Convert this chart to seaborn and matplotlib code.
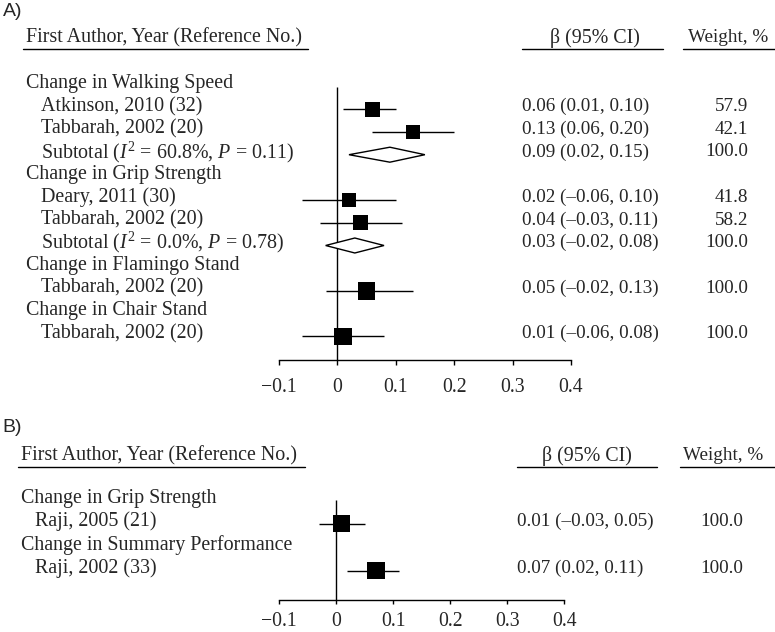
import numpy as np
import pandas as pd
import matplotlib
matplotlib.use("Agg")
import matplotlib.pyplot as plt
import matplotlib.transforms as mtransforms
import seaborn as sns

# -------------------------------
# Data
# -------------------------------
nan = np.nan

a_labels = ["Change in Walking Speed", "Atkinson, 2010 (32)", "Tabbarah, 2002 (20)",
            "Subtotal ($I^2$ = 60.8%, $P$ = 0.11)",
            "Change in Grip Strength", "Deary, 2011 (30)", "Tabbarah, 2002 (20)",
            "Subtotal ($I^2$ = 0.0%, $P$ = 0.78)",
            "Change in Flamingo Stand", "Tabbarah, 2002 (20)",
            "Change in Chair Stand", "Tabbarah, 2002 (20)"]
a_kind = ["group", "study", "study", "subtotal",
          "group", "study", "study", "subtotal",
          "group", "study", "group", "study"]
a_est = [nan, 0.06, 0.13, 0.09, nan, 0.02, 0.04, 0.03, nan, 0.05, nan, 0.01]
a_lo = [nan, 0.01, 0.06, 0.02, nan, -0.06, -0.03, -0.02, nan, -0.02, nan, -0.06]
a_hi = [nan, 0.10, 0.20, 0.15, nan, 0.10, 0.11, 0.08, nan, 0.13, nan, 0.08]
a_weight = [nan, 57.9, 42.1, 100.0, nan, 41.8, 58.2, 100.0, nan, 100.0, nan, 100.0]

b_labels = ["Change in Grip Strength", "Raji, 2005 (21)",
            "Change in Summary Performance", "Raji, 2002 (33)"]
b_kind = ["group", "study", "group", "study"]
b_est = [nan, 0.01, nan, 0.07]
b_lo = [nan, -0.03, nan, 0.02]
b_hi = [nan, 0.05, nan, 0.11]
b_weight = [nan, 100.0, nan, 100.0]

x_ticks = [-0.1, 0, 0.1, 0.2, 0.3, 0.4]
x_ticklabels = ["\u22120.1", "0", "0.1", "0.2", "0.3", "0.4"]

header_left = "First Author, Year (Reference No.)"
header_beta = "\u03b2 (95% CI)"
header_weight = "Weight, %"

# -------------------------------
# Style
# -------------------------------
sns.set_theme(style="white")
plt.rcParams["font.family"] = ["Liberation Serif", "DejaVu Serif"]
plt.rcParams["mathtext.fontset"] = "custom"
plt.rcParams["mathtext.rm"] = "Liberation Serif"
plt.rcParams["mathtext.it"] = "Liberation Serif:italic"

W, H = 775, 632
FS_LAB = 14.4   # left labels / headers
FS_NUM = 13.8   # numeric columns
FS_TICK = 14.2

fig = plt.figure(figsize=(W / 100, H / 100), dpi=100)


def fmt(v):
    return f"{v:.2f}".replace("-", "\u2013")


def draw_panel(labels, kind, est, lo, hi, weight, lay):
    base, step = lay["base"], lay["step"]

    def row(p):
        return (p - base) / step

    ax = fig.add_axes([0, 1 - lay["axis_px"] / H, 1, (lay["axis_px"] - lay["top_px"]) / H])
    x0, sc = lay["zero_px"], lay["scale"]
    ax.set_xlim(-x0 / sc, (W - x0) / sc)
    ax.set_ylim(row(lay["axis_px"]), row(lay["top_px"]))
    ax.set_facecolor("white")
    blend = mtransforms.blended_transform_factory(fig.transFigure, ax.transData)

    df = pd.DataFrame({"label": labels, "kind": kind, "est": est, "lo": lo,
                       "hi": hi, "weight": weight})
    df["row"] = np.arange(len(df))

    # null line
    ax.vlines(0, 0, row(lay["axis_px"]), color="black", lw=1)

    studies = df[df["kind"] == "study"]
    ax.hlines(studies["row"], studies["lo"], studies["hi"], color="black", lw=1)
    sns.scatterplot(data=studies, x="est", y="row", size="weight",
                    sizes=((13.5 * 0.72) ** 2, (17.5 * 0.72) ** 2), size_norm=(40, 100),
                    marker="s", color="black", linewidth=0, legend=False, ax=ax, zorder=3)

    for _, r in df[df["kind"] == "subtotal"].iterrows():
        h = 0.33
        ax.fill([r["lo"], r["est"], r["hi"], r["est"]],
                [r["row"], r["row"] - h, r["row"], r["row"] + h],
                facecolor="white", edgecolor="black", lw=1, zorder=3)

    # text columns
    toff = lay["toff"]
    for _, r in df.iterrows():
        xl = lay["group_x"] if r["kind"] == "group" else lay["study_x"]
        ax.text(xl / W, r["row"] - toff, r["label"], transform=blend,
                ha="left", va="center", fontsize=FS_LAB)
        if r["kind"] != "group":
            ax.text(lay["beta_x"] / W, r["row"] - toff,
                    f"{fmt(r['est'])} ({fmt(r['lo'])}, {fmt(r['hi'])})",
                    transform=blend, ha="left", va="center", fontsize=FS_NUM)
            ax.text(lay["weight_x"] / W, r["row"] - toff, f"{r['weight']:.1f}",
                    transform=blend, ha="right", va="center", fontsize=FS_NUM)

    # headers
    hy = row(lay["head_px"])
    uy = row(lay["uline_px"])
    ax.text(lay["head_left_x"] / W, hy, header_left, transform=blend,
            ha="left", va="center", fontsize=FS_LAB)
    ax.text(lay["beta_head_x"] / W, hy, header_beta, transform=blend,
            ha="center", va="center", fontsize=FS_LAB)
    ax.text(lay["weight_head_x"] / W, hy, header_weight, transform=blend,
            ha="center", va="center", fontsize=FS_NUM)
    for a, b in [lay["ul_left"], lay["ul_beta"], lay["ul_weight"]]:
        ax.plot([a / W, b / W], [uy, uy], color="black", lw=1,
                transform=blend, clip_on=False)

    # axis
    for s in ["left", "top", "right"]:
        ax.spines[s].set_visible(False)
    ax.spines["bottom"].set_color("black")
    ax.spines["bottom"].set_linewidth(1)
    ax.spines["bottom"].set_bounds(-0.1, 0.4)
    ax.set_xticks(x_ticks)
    ax.set_xticklabels(x_ticklabels)
    ax.set_yticks([])
    ax.tick_params(axis="x", bottom=True, direction="out", length=lay["tick_len"],
                   width=1, color="black", labelsize=FS_TICK, pad=lay["pad"])
    ax.set_xlabel("")
    ax.set_ylabel("")
    ax.grid(False)
    return ax


layout_a = dict(base=86.6, step=22.7, axis_px=360, top_px=0, zero_px=337.3, scale=584,
                toff=0.12, group_x=26, study_x=40.7, beta_x=521.7, weight_x=748.3,
                head_px=38, uline_px=49, head_left_x=25.7, beta_head_x=595,
                weight_head_x=728, ul_left=(22.7, 308), ul_beta=(521.7, 663),
                ul_weight=(682.7, 775), tick_len=3.6, pad=9.5)
layout_b = dict(base=500, step=23.5, axis_px=600, top_px=420, zero_px=336, scale=571,
                toff=0.08, group_x=21, study_x=35, beta_x=516.7, weight_x=743.3,
                head_px=456, uline_px=466.5, head_left_x=20.7, beta_head_x=586.7,
                weight_head_x=723, ul_left=(18, 305), ul_beta=(516.7, 656.7),
                ul_weight=(680, 775), tick_len=3, pad=6)

draw_panel(a_labels, a_kind, a_est, a_lo, a_hi, a_weight, layout_a)
draw_panel(b_labels, b_kind, b_est, b_lo, b_hi, b_weight, layout_b)

fig.text(3 / W, 1 - 12 / H, "A)", family="Liberation Sans", fontsize=14,
         ha="left", va="center")
fig.text(2 / W, 1 - 427 / H, "B)", family="Liberation Sans", fontsize=14,
         ha="left", va="center")

fig.savefig("out.png", dpi=100, facecolor="white")
